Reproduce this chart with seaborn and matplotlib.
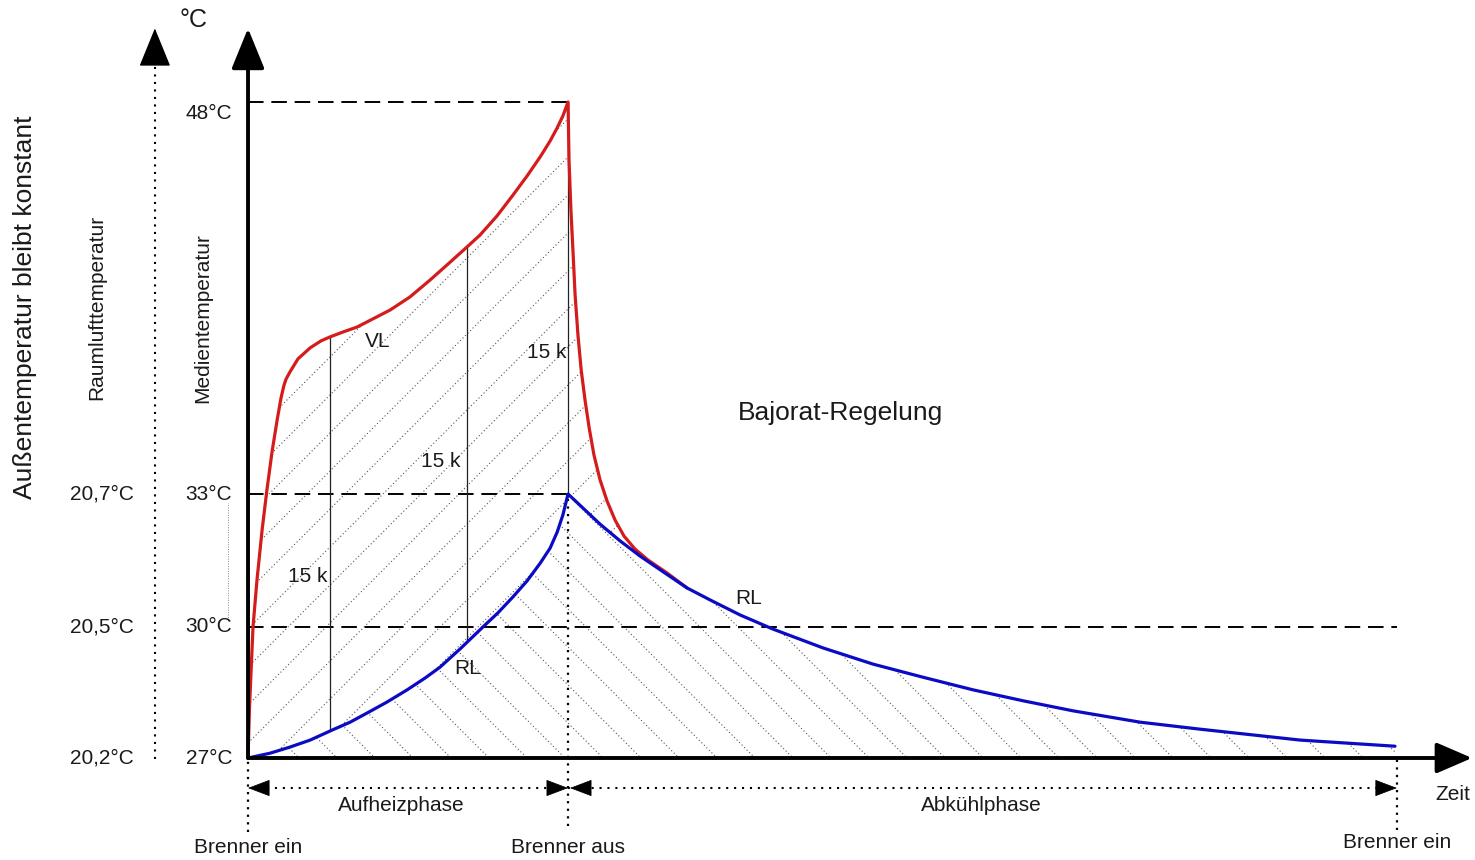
import numpy as np
import matplotlib
matplotlib.use("Agg")
import matplotlib.pyplot as plt
import seaborn as sns
from matplotlib.transforms import IdentityTransform

# --- data (time in min, temperature in °C) ---

# VL (Vorlauf): heating up to the burner switch-off, then the drop until it meets RL
vl_time = [0, 0.047, 0.156, 0.28, 0.44, 0.59, 0.75, 0.91, 1.03, 1.125,
           1.19, 1.31, 1.56, 1.94, 2.28, 2.56, 2.97, 3.41, 4.44, 5.06, 5.69,
           6.25, 6.84, 7.25, 7.78, 8.28, 8.72, 9.13, 9.44, 9.66, 9.84, 10.0,
           10.03, 10.09, 10.16, 10.22, 10.31, 10.41, 10.53, 10.66, 10.81, 11.0,
           11.22, 11.47, 11.75, 12.09, 12.5, 13.09, 13.72]
vl_temp = [27.0, 28.17, 30.0, 31.06, 32.19, 33.15, 34.61, 35.83, 36.67, 37.17,
           37.40, 37.67, 38.17, 38.59, 38.86, 39.01, 39.20, 39.39, 40.04, 40.54, 41.19,
           41.80, 42.45, 42.91, 43.64, 44.44, 45.17, 45.90, 46.51, 47.01, 47.47, 48.0,
           45.78, 43.87, 42.15, 40.62, 39.08, 37.75, 36.60, 35.53, 34.49, 33.54,
           32.84, 32.41, 32.05, 31.76, 31.51, 31.22, 30.88]

# RL (Rücklauf)
rl_time = [0, 0.69, 1.31, 1.94, 2.63, 3.19, 3.72, 4.34, 4.97, 5.53, 6.0,
           6.63, 7.34, 7.81, 8.28, 8.72, 9.13, 9.44, 9.66, 9.84, 10.0,
           10.5, 11.0, 11.63, 12.25, 12.88, 13.72, 14.44, 15.38, 16.41, 17.97,
           19.53, 21.09, 22.66, 24.22, 25.78, 27.88, 29.75, 32.88, 35.84]
rl_temp = [27.0, 27.11, 27.25, 27.41, 27.64, 27.82, 28.03, 28.28, 28.56, 28.83, 29.08,
           29.50, 30.0, 30.32, 30.68, 31.04, 31.44, 31.78, 32.14, 32.53, 33.0,
           32.66, 32.32, 31.94, 31.60, 31.29, 30.88, 30.61, 30.27, 29.95, 29.52,
           29.15, 28.85, 28.56, 28.31, 28.08, 27.82, 27.66, 27.41, 27.27]

merge_time = 13.72            # VL runs into RL here
guide_times = [2.56, 6.84, 10.0]   # the thin "15 k" verticals

media_ticks = [27, 30, 33, 48]
media_labels = ["27°C", "30°C", "33°C", "48°C"]
room_labels = ["20,2°C", "20,5°C", "20,7°C"]   # next to 27 / 30 / 33
dashed_levels = [48, 33, 30]
dashed_ends = [10.0, 10.0, 35.9]

burner_times = [0, 10.0, 35.9]
burner_labels = ["Brenner ein", "Brenner aus", "Brenner ein"]
phase_labels = ["Aufheizphase", "Abkühlphase"]

# --- the sketch has an uneven temperature axis; mimic it with a piecewise scale ---
temp_knots = [20, 27, 30, 33, 48, 60]
pos_knots = [-305.7, 0, 131, 264, 656, 969.6]


def forward(t):
    return np.interp(t, temp_knots, pos_knots)


def inverse(p):
    return np.interp(p, pos_knots, temp_knots)


def add_hatch(ax, patch, direction, spacing=38, w=1475, h=860):
    # diagonal dotted hatch, drawn in pixel space and clipped to the patch
    for c in np.arange(-w - h, w + h, spacing):
        xs = np.array([0, w])
        ys = direction * xs + c
        line, = ax.plot(xs, ys, transform=IdentityTransform(), color="#555555",
                        lw=0.8, ls=(0, (1, 2.2)), zorder=1)
        line.set_clip_path(patch)


sns.set_theme(style="white")
plt.rcParams["font.family"] = ["Liberation Sans", "DejaVu Sans"]
TXT = "#1a1a1a"

fig = plt.figure(figsize=(14.75, 8.6), dpi=100)
ax = fig.add_axes([0, 0, 1, 1])
ax.set_yscale("function", functions=(forward, inverse))
ax.set_xlim(-7.75, 38.34)
ax.set_ylim(inverse(-102), inverse(758))
ax.axis("off")

vl_t = np.array(vl_time)
vl_T = np.array(vl_temp)
rl_t = np.array(rl_time)
rl_T = np.array(rl_temp)

# hatched areas: between VL and RL ("/"), below RL ("\")
keep = rl_t <= merge_time
poly_a = ax.fill(np.concatenate([vl_t, rl_t[keep][::-1]]),
                 np.concatenate([vl_T, rl_T[keep][::-1]]),
                 facecolor="none", edgecolor="none")[0]
poly_b = ax.fill(np.concatenate([rl_t, [rl_t[-1], 0]]),
                 np.concatenate([rl_T, [27, 27]]),
                 facecolor="none", edgecolor="none")[0]
add_hatch(ax, poly_a, 1)
add_hatch(ax, poly_b, -1)

# dashed reference levels
for lvl, end in zip(dashed_levels, dashed_ends):
    ax.plot([0, end], [lvl, lvl], color="black", lw=1.4, ls=(0, (8, 4)), zorder=2)

# thin verticals between VL and RL
for gt in guide_times:
    ax.plot([gt, gt], [np.interp(gt, rl_t, rl_T), np.interp(gt, vl_t, vl_T)],
            color="#222222", lw=0.9, zorder=2)

# curves
sns.lineplot(x=vl_t, y=vl_T, ax=ax, color="#d41c1c", lw=2.3, sort=False,
             estimator=None, zorder=4)
sns.lineplot(x=rl_t, y=rl_T, ax=ax, color="#0b0bc4", lw=2.3, sort=False,
             estimator=None, zorder=5)

# axes arrows
big_head = dict(arrowstyle="-|>,head_length=2.5,head_width=1.02", mutation_scale=10,
                color="black", shrinkA=0, shrinkB=0)
ax.annotate("", xy=(0, 0.967), xycoords=("data", "axes fraction"),
            xytext=(0, 27), textcoords="data",
            arrowprops=dict(lw=2.8, **big_head), zorder=6)
ax.annotate("", xy=(0.998, 27), xycoords=("axes fraction", "data"),
            xytext=(0, 27), textcoords="data",
            arrowprops=dict(lw=2.8, arrowstyle="-|>,head_length=2.2,head_width=0.95",
                            mutation_scale=10, color="black", shrinkA=0, shrinkB=0),
            zorder=6)
ax.annotate("", xy=(0.105, 0.967), xycoords="axes fraction",
            xytext=(0.105, 0.925), textcoords="axes fraction",
            arrowprops=dict(lw=1, **big_head))
ax.plot([0.105, 0.105], [0.118, 0.924], transform=ax.transAxes, color="black",
        lw=1.5, ls=(0, (1, 2.6)))
ax.plot([-0.625, -0.625], [30.15, 32.8], color="#888888", lw=0.7, ls=(0, (1, 1.5)))

# burner markers and phase arrows
xt = ax.get_xaxis_transform()
ax.plot([burner_times[0]] * 2, [0.033, 0.118], transform=xt, color="black", lw=1.6,
        ls=(0, (1, 2.4)))
ax.plot([burner_times[1]] * 2, [0.04, 0.425], transform=xt, color="black", lw=1.6,
        ls=(0, (1, 2.4)))
ax.plot([burner_times[2]] * 2, [0.035, 0.116], transform=xt, color="black", lw=1.6,
        ls=(0, (1, 2.4)))
ax.plot([burner_times[0] + 0.6, burner_times[2] - 0.6], [0.0837, 0.0837], transform=xt,
        color="black", lw=1.5, ls=(0, (1, 2.8)))
small_head = dict(arrowstyle="-|>,head_length=1.45,head_width=0.55", mutation_scale=10,
                  color="black", lw=0.5, shrinkA=0, shrinkB=0)
for tip, tail in [(burner_times[0], burner_times[0] + 0.65),
                  (burner_times[1], burner_times[1] - 0.65),
                  (burner_times[1] + 0.06, burner_times[1] + 0.71),
                  (burner_times[2], burner_times[2] - 0.65)]:
    ax.annotate("", xy=(tip, 0.0837), xycoords=xt, xytext=(tail, 0.0837),
                textcoords=xt, arrowprops=small_head)

ax.text(np.mean(burner_times[:2]) - 0.22, 0.063, phase_labels[0], transform=xt,
        ha="center", va="center", fontsize=15, color=TXT)
ax.text(np.mean(burner_times[1:]) - 0.05, 0.063, phase_labels[1], transform=xt,
        ha="center", va="center", fontsize=15, color=TXT)
for bt, lab, yy in zip(burner_times, burner_labels, [0.014, 0.014, 0.02]):
    ax.text(bt, yy, lab, transform=xt, ha="center", va="center", fontsize=15, color=TXT)
ax.text(37.66, 0.0756, "Zeit", transform=xt, ha="center", va="center", fontsize=15,
        color=TXT)

# tick labels
for tk, lab in zip(media_ticks, media_labels):
    dy = -8 if tk == 48 else 0
    ax.annotate(lab, xy=(-0.5, tk), xytext=(0, dy), textcoords="offset points",
                ha="right", va="center", fontsize=15, color=TXT)
for tk, lab in zip(media_ticks[:3], room_labels):
    ax.text(-3.56, tk, lab, ha="right", va="center", fontsize=15, color=TXT)

# axis titles
ax.text(0.0169, 0.643, "Außentemperatur bleibt konstant", transform=ax.transAxes,
        rotation=90, ha="center", va="center", fontsize=19, color=TXT)
ax.text(0.0658, 0.642, "Raumlufttemperatur", transform=ax.transAxes, rotation=90,
        ha="center", va="center", fontsize=15, color=TXT)
ax.text(0.1376, 0.630, "Medientemperatur", transform=ax.transAxes, rotation=90,
        ha="center", va="center", fontsize=15, color=TXT)
ax.text(0.1315, 0.977, "°C", transform=ax.transAxes, ha="center", va="center",
        fontsize=18, color=TXT)

# in-plot annotations
notes = [("VL", 4.06, 38.82), ("15 k", 9.34, 38.43), ("15 k", 6.03, 34.26),
         ("15 k", 1.875, 31.13), ("RL", 15.63, 30.65), ("RL", 6.875, 29.06)]
for lab, nt, nT in notes:
    ax.text(nt, nT, lab, ha="center", va="center", fontsize=15, color=TXT, zorder=7)
ax.text(18.5, 36.10, "Bajorat-Regelung", ha="center", va="center", fontsize=19,
        color=TXT)

fig.savefig("out.png", dpi=100)
